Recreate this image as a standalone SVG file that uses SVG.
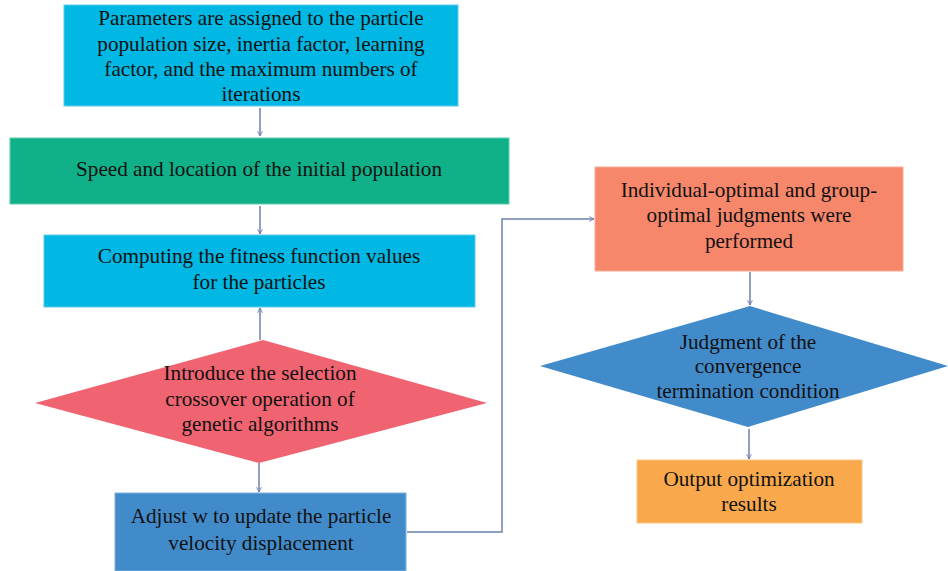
<svg xmlns="http://www.w3.org/2000/svg" width="948" height="571" viewBox="0 0 948 571">
<defs>
<marker id="ah" viewBox="0 0 10 10" refX="9" refY="5" markerWidth="6" markerHeight="6" orient="auto" markerUnits="userSpaceOnUse">
<path d="M1,1 L9,5 L1,9" fill="none" stroke="#6F7FAF" stroke-width="1.5"/>
</marker>
</defs>
<style>
text{font-family:"Liberation Serif","Times New Roman",serif;font-size:21.2px;fill:#111;text-anchor:middle}
.c{fill:none;stroke:#6F7FAF;stroke-width:1.5;marker-end:url(#ah)}
</style>
<rect width="948" height="571" fill="#fff"/>
<g id="n1">
<rect x="64" y="5" width="394" height="101" fill="#00B8E3" stroke="#5CCBEA" stroke-width="1"/>
<text x="261" y="25">Parameters are assigned to the particle</text>
<text x="261" y="51">population size, inertia factor, learning</text>
<text x="261" y="76">factor, and the maximum numbers of</text>
<text x="261" y="101">iterations</text>
</g>
<g id="n2">
<rect x="10" y="138" width="499" height="66" fill="#10B088" stroke="#5FCBAE" stroke-width="1"/>
<text x="259" y="176">Speed and location of the initial population</text>
</g>
<g id="n3">
<rect x="44" y="235" width="431" height="72" fill="#00B8E3" stroke="#5CCBEA" stroke-width="1"/>
<text x="259" y="263">Computing the fitness function values</text>
<text x="259" y="289">for the particles</text>
</g>
<g id="n4">
<polygon points="263,340 487,403 259,463 35,403" fill="#F06370"/>
<text x="260" y="380">Introduce the selection</text>
<text x="260" y="406">crossover operation of</text>
<text x="260" y="431">genetic algorithms</text>
</g>
<g id="n5">
<rect x="115" y="493" width="291" height="78" fill="#428BCA" stroke="#7FB0DC" stroke-width="1"/>
<text x="261" y="523">Adjust w to update the particle</text>
<text x="261" y="550">velocity displacement</text>
</g>
<g id="n6">
<rect x="595" y="167" width="308" height="104" fill="#F6876B" stroke="#F9AE9A" stroke-width="1"/>
<text x="749" y="197">Individual-optimal and group-</text>
<text x="749" y="222">optimal judgments were</text>
<text x="749" y="248">performed</text>
</g>
<g id="n7">
<polygon points="750,306 948,366 748,427 540,366" fill="#428BCA"/>
<text x="748" y="349">Judgment of the</text>
<text x="748" y="373">convergence</text>
<text x="748" y="398">termination condition</text>
</g>
<g id="n8">
<rect x="637" y="460" width="225" height="63" fill="#F9A94B" stroke="#FBC585" stroke-width="1"/>
<text x="749" y="486">Output optimization</text>
<text x="749" y="511">results</text>
</g>
<g id="connectors">
<path class="c" d="M260,108 L260,136"/>
<path class="c" d="M260,206 L260,234"/>
<path class="c" d="M260,340 L260,308"/>
<path class="c" d="M259,463 L259,492"/>
<path class="c" d="M407,532 L502,532 L502,219 L594,219"/>
<path class="c" d="M750,272 L750,305"/>
<path class="c" d="M749,429 L749,459"/>
</g>
</svg>
